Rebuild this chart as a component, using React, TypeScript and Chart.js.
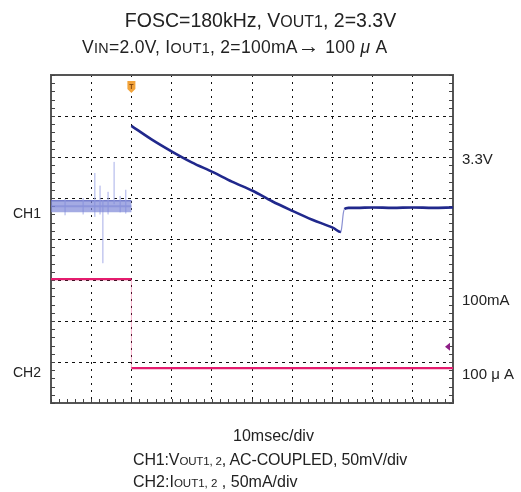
import React, { useEffect, useRef } from 'react';
import { Chart, registerables } from 'chart.js';

Chart.register(...registerables);

// Oscilloscope screen: 10 horizontal divisions (10 msec/div), 8 vertical divisions
const xDivisionMax = 10;
const yDivisionMax = 8;

// CH1 (VOUT, AC-coupled) before the load step – noisy band
const ch1PreTime = [0, 0.5, 1, 1.5, 2];
const ch1PreLevel = [4.8, 4.8, 4.8, 4.8, 4.8];
const ch1PreUpperEdge = [4.93, 4.93, 4.93, 4.93, 4.93];

// CH1 noise spikes before the trigger
const ch1SpikeTime = [0.35, 0.8, 1.09, 1.22, 1.29, 1.42, 1.57, 1.72, 1.86];
const ch1SpikeTop = [4.97, 5.0, 5.61, 5.3, 4.95, 5.15, 5.88, 5.05, 5.2];
const ch1SpikeBottom = [4.58, 4.6, 4.54, 4.6, 3.41, 4.6, 4.85, 4.65, 4.62];

// CH1 after the load step
const ch1Time = [2.0, 2.5, 3.03, 3.5, 4.03, 4.5, 5.03, 5.5, 6.02, 6.5, 7.02, 7.21, 7.24, 7.27, 7.3, 7.4, 7.6, 8, 8.5, 9, 9.5, 10];
const ch1Level = [6.76, 6.43, 6.12, 5.87, 5.63, 5.4, 5.17, 4.92, 4.68, 4.47, 4.27, 4.17, 4.35, 4.62, 4.73, 4.76, 4.76, 4.77, 4.76, 4.77, 4.76, 4.77];

// CH2 (IOUT): 100 mA -> 100 uA
const ch2Time = [0, 2, 2, 10];
const ch2Level = [3.02, 3.02, 0.85, 0.85];

// markers
const triggerTime = 2;
const ch2RefLevel = 1.37;

// side labels
const leftLabels = ['CH1', 'CH2'];
const leftLabelLevels = [4.61, 0.73];
const rightLabels = ['3.3V', '100mA', '100 \u03BC A'];
const rightLabelLevels = [5.93, 2.49, 0.68];

const NAVY = 'rgb(32,40,140)';
const PINK = 'rgb(228,28,110)';
const FONT = '"Liberation Sans", Arial, sans-serif';

const zip = (xs: number[], ys: number[]) => xs.map((x, i) => ({ x, y: ys[i] }));

const spikeData = () => {
  const pts: any[] = [];
  ch1SpikeTime.forEach((t, i) => {
    pts.push({ x: t, y: ch1SpikeTop[i] });
    pts.push({ x: t, y: ch1SpikeBottom[i] });
    pts.push({ x: t, y: null });
  });
  return pts;
};

const scopePlugin = {
  id: 'scope',
  beforeDatasetsDraw(chart: any) {
    const { ctx, chartArea: a, scales } = chart;
    const xs = scales.x;
    const ys = scales.y;
    ctx.save();
    // frame
    ctx.strokeStyle = '#555';
    ctx.lineWidth = 2;
    ctx.strokeRect(a.left, a.top, a.right - a.left, a.bottom - a.top);
    // minor ticks
    ctx.lineWidth = 1;
    ctx.strokeStyle = '#444';
    for (let v = 0; v <= yDivisionMax + 1e-6; v += 0.2) {
      const y = Math.round(ys.getPixelForValue(v)) + 0.5;
      ctx.beginPath();
      ctx.moveTo(a.left, y);
      ctx.lineTo(a.left + 4, y);
      ctx.moveTo(a.right, y);
      ctx.lineTo(a.right - 4, y);
      ctx.stroke();
    }
    for (let v = 0; v <= xDivisionMax + 1e-6; v += 0.2) {
      const x = Math.round(xs.getPixelForValue(v)) + 0.5;
      ctx.beginPath();
      ctx.moveTo(x, a.bottom);
      ctx.lineTo(x, a.bottom - 4);
      ctx.stroke();
    }
    ctx.restore();
  },
  afterDatasetsDraw(chart: any) {
    const { ctx, chartArea: a, scales } = chart;
    const xs = scales.x;
    const ys = scales.y;
    ctx.save();
    // trigger marker
    const tx = xs.getPixelForValue(triggerTime);
    const ty = a.top + 6;
    ctx.fillStyle = '#f2a33a';
    ctx.beginPath();
    ctx.moveTo(tx - 4, ty);
    ctx.lineTo(tx + 4, ty);
    ctx.lineTo(tx + 4, ty + 8);
    ctx.lineTo(tx, ty + 12);
    ctx.lineTo(tx - 4, ty + 8);
    ctx.closePath();
    ctx.fill();
    ctx.strokeStyle = '#8a4a10';
    ctx.lineWidth = 1;
    ctx.beginPath();
    ctx.moveTo(tx - 2, ty + 3.5);
    ctx.lineTo(tx + 2, ty + 3.5);
    ctx.moveTo(tx, ty + 3.5);
    ctx.lineTo(tx, ty + 8);
    ctx.stroke();
    // CH2 reference arrow at right edge
    const ry = ys.getPixelForValue(ch2RefLevel);
    ctx.fillStyle = '#8e1f86';
    ctx.beginPath();
    ctx.moveTo(a.right - 8, ry);
    ctx.lineTo(a.right - 3, ry - 4);
    ctx.lineTo(a.right - 3, ry + 4);
    ctx.closePath();
    ctx.fill();
    // side labels
    ctx.fillStyle = '#222';
    ctx.textBaseline = 'middle';
    ctx.font = '14px ' + FONT;
    ctx.textAlign = 'right';
    leftLabels.forEach((t, i) => ctx.fillText(t, a.left - 10, ys.getPixelForValue(leftLabelLevels[i])));
    ctx.font = '15px ' + FONT;
    ctx.textAlign = 'left';
    rightLabels.forEach((t, i) => ctx.fillText(t, a.right + 9, ys.getPixelForValue(rightLabelLevels[i])));
    ctx.restore();
  },
};

function ScopeChart() {
  const ref = useRef<HTMLCanvasElement>(null);
  useEffect(() => {
    if (!ref.current) return;
    const chart = new Chart(ref.current, {
      type: 'line',
      data: {
        datasets: [
          {
            label: 'CH1 band',
            data: zip(ch1PreTime, ch1PreLevel),
            borderColor: 'rgba(125,135,215,0.7)',
            borderWidth: 12,
            pointRadius: 0,
            borderCapStyle: 'butt',
          },
          {
            label: 'CH1 spikes',
            data: spikeData(),
            borderColor: 'rgba(170,178,232,0.45)',
            borderWidth: 1,
            pointRadius: 0,
            spanGaps: false,
          },
          {
            label: 'CH1 upper',
            data: zip(ch1PreTime, ch1PreUpperEdge),
            borderColor: 'rgba(50,60,165,0.7)',
            borderWidth: 1.5,
            pointRadius: 0,
          },
          {
            label: 'CH1 center',
            data: zip(ch1PreTime, ch1PreLevel),
            borderColor: 'rgba(100,110,200,0.5)',
            borderWidth: 2,
            pointRadius: 0,
          },
          {
            label: 'CH1',
            data: zip(ch1Time, ch1Level),
            borderColor: NAVY,
            borderWidth: 2.6,
            pointRadius: 0,
            cubicInterpolationMode: 'monotone',
            segment: {
              borderWidth: (c: any) => (c.p1.parsed.x - c.p0.parsed.x < 0.05 ? 1.2 : 2.6),
              borderColor: (c: any) => (c.p1.parsed.x - c.p0.parsed.x < 0.05 ? 'rgba(60,70,180,0.6)' : NAVY),
            },
          },
          {
            label: 'CH2',
            data: zip(ch2Time, ch2Level),
            borderColor: PINK,
            borderWidth: 2.2,
            pointRadius: 0,
            segment: {
              borderColor: (c: any) => (c.p0.parsed.x === c.p1.parsed.x ? 'rgba(228,28,110,0.12)' : PINK),
              borderWidth: (c: any) => (c.p0.parsed.x === c.p1.parsed.x ? 1 : 2.2),
            },
          },
        ],
      },
      options: {
        animation: false,
        responsive: false,
        events: [],
        layout: { padding: { left: 51, right: 68, top: 75, bottom: 89 } },
        plugins: { legend: { display: false }, tooltip: { enabled: false }, title: { display: false } },
        scales: {
          x: {
            type: 'linear',
            min: 0,
            max: xDivisionMax,
            ticks: { display: false, stepSize: 1 },
            grid: { color: '#111', lineWidth: 1, drawTicks: false },
            border: { display: false, dash: [2, 5] },
          },
          y: {
            type: 'linear',
            min: 0,
            max: yDivisionMax,
            ticks: { display: false, stepSize: 1 },
            grid: { color: '#111', lineWidth: 1, drawTicks: false },
            border: { display: false, dash: [3, 4] },
          },
        },
      },
      plugins: [scopePlugin],
    });
    return () => chart.destroy();
  }, []);
  return <canvas ref={ref} width={521} height={492} style={{ position: 'absolute', left: 0, top: 0 }} />;
}

const smTitle: React.CSSProperties = { fontSize: '0.82em' };
const smNote: React.CSSProperties = { fontSize: '0.72em' };

export default function App() {
  const base: React.CSSProperties = {
    position: 'absolute',
    fontFamily: FONT,
    color: '#222',
    whiteSpace: 'nowrap',
    lineHeight: 1,
  };
  return (
    <div style={{ position: 'fixed', left: 0, top: 0, width: 521, height: 492, background: '#fff', overflow: 'hidden' }}>
      <ScopeChart />
      <div style={{ ...base, left: 0, width: 521, textAlign: 'center', top: 11, fontSize: 19.5 }}>
        FOSC=180kHz, V<span style={smTitle}>OUT1</span>, 2=3.3V
      </div>
      <div style={{ ...base, left: 82, top: 37, fontSize: 17.5, letterSpacing: 0.3 }}>
        V<span style={smTitle}>IN</span>=2.0V, I<span style={smTitle}>OUT1</span>, 2=100mA<span style={{ fontSize: '1.25em', lineHeight: 0.8 }}>{'\u2192'}</span> 100 <i>{'\u03BC'}</i> A
      </div>
      <div style={{ ...base, left: 233, top: 428, fontSize: 16 }}>10msec/div</div>
      <div style={{ ...base, left: 133, top: 452, fontSize: 16, letterSpacing: -0.15 }}>
        CH1:V<span style={smNote}>OUT1, 2</span>, AC-COUPLED, 50mV/div
      </div>
      <div style={{ ...base, left: 133, top: 474, fontSize: 16 }}>
        CH2:I<span style={smNote}>OUT1, 2</span> , 50mA/div
      </div>
    </div>
  );
}
